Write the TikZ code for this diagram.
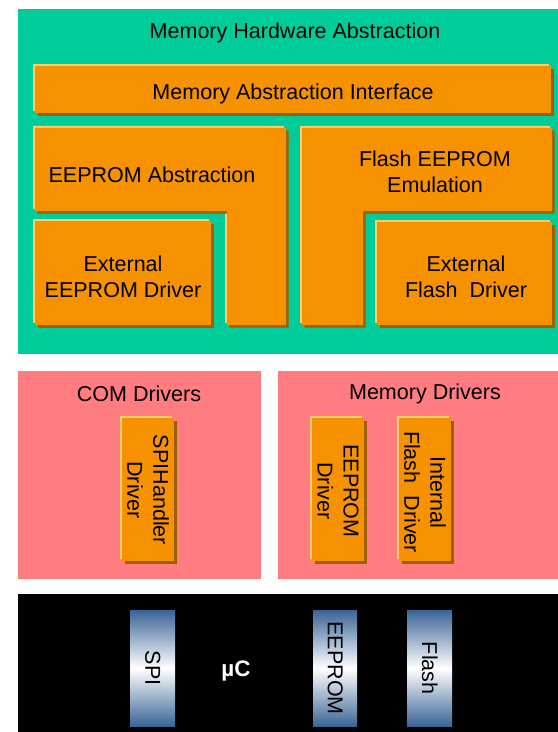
\documentclass[tikz,border=0pt]{standalone}
\usepackage{fontspec}
\setmainfont{Liberation Sans}
\usetikzlibrary{shadows}
\definecolor{mgreen}{RGB}{0,204,153}
\definecolor{orng}{RGB}{246,146,0}
\definecolor{hilite}{RGB}{255,204,110}
\definecolor{shade}{RGB}{156,96,0}
\definecolor{mpink}{RGB}{255,124,128}
\definecolor{barblue}{RGB}{58,100,150}
\begin{document}
\begin{tikzpicture}[x=1bp,y=-1bp,
  every node/.style={font=\fontsize{21.6}{26}\selectfont, inner sep=0pt, align=center},
  region/.style={rectangle, draw=none, anchor=north west, inner sep=0pt},
  obox/.style={fill=orng,
    general shadow={fill=hilite, shadow xshift=-2bp, shadow yshift=2bp},
    general shadow={fill=shade, shadow xshift=2.5bp, shadow yshift=-2.5bp}},
  bar/.style={region, top color=barblue, bottom color=barblue, middle color=white},
  lbl/.style={text=black},
]
\useasboundingbox (0,0) rectangle (558,732);
\fill[white] (0,0) rectangle (558,732);

% regions
\node[region, fill=mgreen, minimum width=540bp, minimum height=345bp] (mha) at (18,9) {};
\node[region, fill=mpink, minimum width=243bp, minimum height=208bp] (com) at (18,371) {};
\node[region, fill=mpink, minimum width=280bp, minimum height=208bp] (memd) at (278,371) {};
\node[region, fill=black, minimum width=540bp, minimum height=138bp] (uc) at (18,594) {};

\node[lbl] (mhat) at (295,33) {Memory Hardware Abstraction};
\node[lbl] (comt) at (139,394) {COM Drivers};
\node[lbl] (memdt) at (425,394) {Memory Drivers};

% memory hardware abstraction boxes
\node[obox, region, minimum width=516bp, minimum height=47bp] (mai) at (35,66) {};
\node[lbl] (mait) at (293,94) {Memory Abstraction Interface};

\path[obox] (35,128) -- (286,128) -- (286,325) -- (227,325) -- (227,211) -- (35,211) -- cycle;
\node[lbl] (ea) at (152,175) {EEPROM Abstraction};

\node[obox, region, minimum width=176bp, minimum height=104bp] (eed) at (35,221) {};
\node[lbl] (eedt) at (123,277) {External\\EEPROM Driver};

\path[obox] (302,128) -- (552,128) -- (552,211) -- (363,211) -- (363,325) -- (302,325) -- cycle;
\node[lbl] (fee) at (435,172) {Flash EEPROM\\Emulation};

\node[obox, region, minimum width=175bp, minimum height=103bp] (efd) at (377,222) {};
\node[lbl] (efdt) at (466,277) {External\\Flash~~Driver};

% drivers
\node[obox, region, minimum width=52bp, minimum height=143bp] (spih) at (122,418) {};
\node[lbl, rotate=-90] (spiht) at (148,490) {SPIHandler\\Driver};

\node[obox, region, minimum width=52bp, minimum height=143bp] (eepd) at (312,418) {};
\node[lbl, rotate=-90] (eepdt) at (338,491) {EEPROM\\Driver};

\node[obox, region, minimum width=52bp, minimum height=143bp] (ifd) at (399,418) {};
\node[lbl, rotate=-90] (ifdt) at (425,492) {Internal\\Flash~~Driver};

% microcontroller
\node[bar, minimum width=45bp, minimum height=116bp] (spibar) at (130,610) {};
\node[lbl, rotate=-90] (spit) at (spibar.center) {SPI};
\node[bar, minimum width=44bp, minimum height=116bp] (eepbar) at (313,610) {};
\node[lbl, rotate=-90] (eept) at (eepbar.center) {EEPROM};
\node[bar, minimum width=45bp, minimum height=116bp] (flbar) at (407,610) {};
\node[lbl, rotate=-90] (flt) at (flbar.center) {Flash};
\node[text=white, font=\bfseries\fontsize{22.5}{26}\selectfont] (muc) at (236,671) {µC};
\end{tikzpicture}
\end{document}
